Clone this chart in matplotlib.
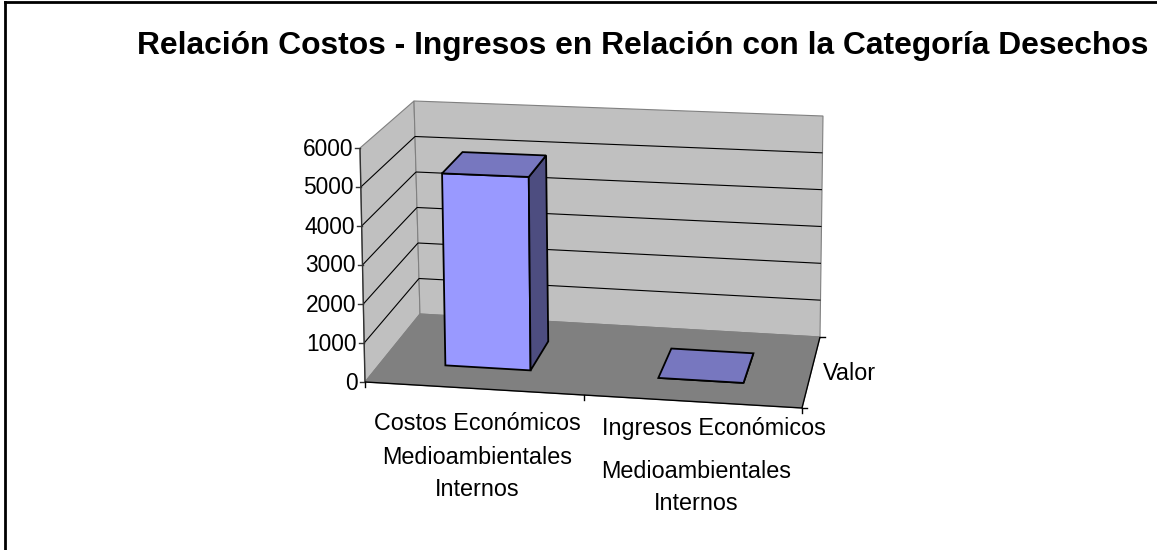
import numpy as np
import matplotlib.pyplot as plt
from matplotlib.patches import Polygon

plt.rcParams['font.family'] = ['Liberation Sans', 'DejaVu Sans']

# datos del grafico
titulo = "Relación Costos - Ingresos en Relación con la Categoría Desechos"
categorias = ["Costos Económicos\nMedioambientales\nInternos",
              "Ingresos Económicos\nMedioambientales\nInternos"]
valores = [5030, 0]
serie = "Valor"
ticks_valor = [0, 1000, 2000, 3000, 4000, 5000, 6000]

vmax = ticks_valor[-1]

# esquinas de la caja 3D en pixeles: [u][v][w] (izq/der, frente/fondo, abajo/arriba)
esquinas = np.array([
    [[(365, 382), (360, 148)], [(420, 314), (414, 101)]],
    [[(802, 408), (806, 165)], [(820, 337), (823, 116)]],
], dtype=float)


def proy(u, v, val):
    # interpolacion trilineal dentro de la caja (aprox. de la perspectiva de Excel)
    w = val / vmax
    p = np.zeros(2)
    for iu, fu in ((0, 1 - u), (1, u)):
        for iv, fv in ((0, 1 - v), (1, v)):
            for iw, fw in ((0, 1 - w), (1, w)):
                p += fu * fv * fw * esquinas[iu, iv, iw]
    return p


def cara(ax, pts, color, edge, lw, z):
    ax.add_patch(Polygon([proy(*p) for p in pts], closed=True, facecolor=color,
                         edgecolor=edge, linewidth=lw, zorder=z))


def linea(ax, a, b, color, lw, z):
    pa, pb = proy(*a), proy(*b)
    ax.plot([pa[0], pb[0]], [pa[1], pb[1]], color=color, lw=lw, zorder=z,
            solid_capstyle='butt')


fig = plt.figure(figsize=(11.57, 5.5), dpi=100)
ax = fig.add_axes([0, 0, 1, 1])
ax.set_xlim(0, 1157)
ax.set_ylim(550, 0)
ax.axis('off')

# borde del area del grafico
ax.plot([5, 5], [2, 550], color='black', lw=2)
ax.plot([5, 1157], [2, 2], color='black', lw=2)

# paredes y piso
gris_pared = '#C0C0C0'
gris_piso = '#808080'
cara(ax, [(0, 0, 0), (0, 1, 0), (0, 1, vmax), (0, 0, vmax)], gris_pared, '#808080', 0.8, 1)
cara(ax, [(0, 1, 0), (1, 1, 0), (1, 1, vmax), (0, 1, vmax)], gris_pared, '#808080', 0.8, 1)
cara(ax, [(0, 0, 0), (1, 0, 0), (1, 1, 0), (0, 1, 0)], gris_piso, gris_piso, 0.8, 2)

# lineas de division
for t in ticks_valor[1:-1]:
    linea(ax, (0, 0, t), (0, 1, t), 'black', 0.8, 3)
    linea(ax, (0, 1, t), (1, 1, t), 'black', 0.8, 3)

# ejes
linea(ax, (0, 0, 0), (0, 0, vmax), '#333333', 1.0, 4)
linea(ax, (0, 0, 0), (1, 0, 0), 'black', 1.0, 4)
linea(ax, (1, 0, 0), (1, 1, 0), 'black', 1.0, 4)

# eje de valores
for t in ticks_valor:
    p = proy(0, 0, t)
    ax.plot([p[0] - 5, p[0]], [p[1], p[1]], color='#333333', lw=1.0, zorder=4)
    ax.text(p[0] - 7, p[1] + 7.5, str(t), ha='right', va='baseline', fontsize=16.4)

# eje de categorias
n = len(categorias)
for i in range(n + 1):
    p = proy(i / n, 0, 0)
    ax.plot([p[0], p[0]], [p[1], p[1] + 5], color='black', lw=1.0, zorder=4)

desp_x = [[0, 0, 0], [18, 0, 0]]
desp_y = [[41, 75, 107], [34, 77, 109]]
for i, cat in enumerate(categorias):
    p = proy((i + 0.5) / n, 0, 0)
    for j, txt in enumerate(cat.split("\n")):
        ax.text(p[0] + 3 + desp_x[i][j], p[1] + desp_y[i][j], txt, ha='center',
                va='baseline', fontsize=16.8)

# eje de series
for v in (0, 1):
    p = proy(1, v, 0)
    ax.plot([p[0], p[0] + 5], [p[1], p[1]], color='black', lw=1.0, zorder=4)
p = proy(1, 0.5, 0)
ax.text(p[0] + 12, p[1] + 7, serie, ha='left', va='baseline', fontsize=16.8)

# columnas
ancho = 0.2
v0, v1 = 0.3, 0.72
for i, val in enumerate(valores):
    c = (i + 0.5) / n
    u0, u1 = c - ancho / 2, c + ancho / 2
    cara(ax, [(u0, v0, 0), (u1, v0, 0), (u1, v0, val), (u0, v0, val)], '#9999FF', 'black', 1.3, 5)
    cara(ax, [(u1, v0, 0), (u1, v1, 0), (u1, v1, val), (u1, v0, val)], '#4D4D80', 'black', 1.3, 5)
    cara(ax, [(u0, v0, val), (u1, v0, val), (u1, v1, val), (u0, v1, val)], '#7777BF', 'black', 1.3, 6)

# titulo
ax.text(643, 54, titulo, ha='center', va='baseline', fontsize=22.9, fontweight='bold')

fig.savefig('out.png', dpi=100)
